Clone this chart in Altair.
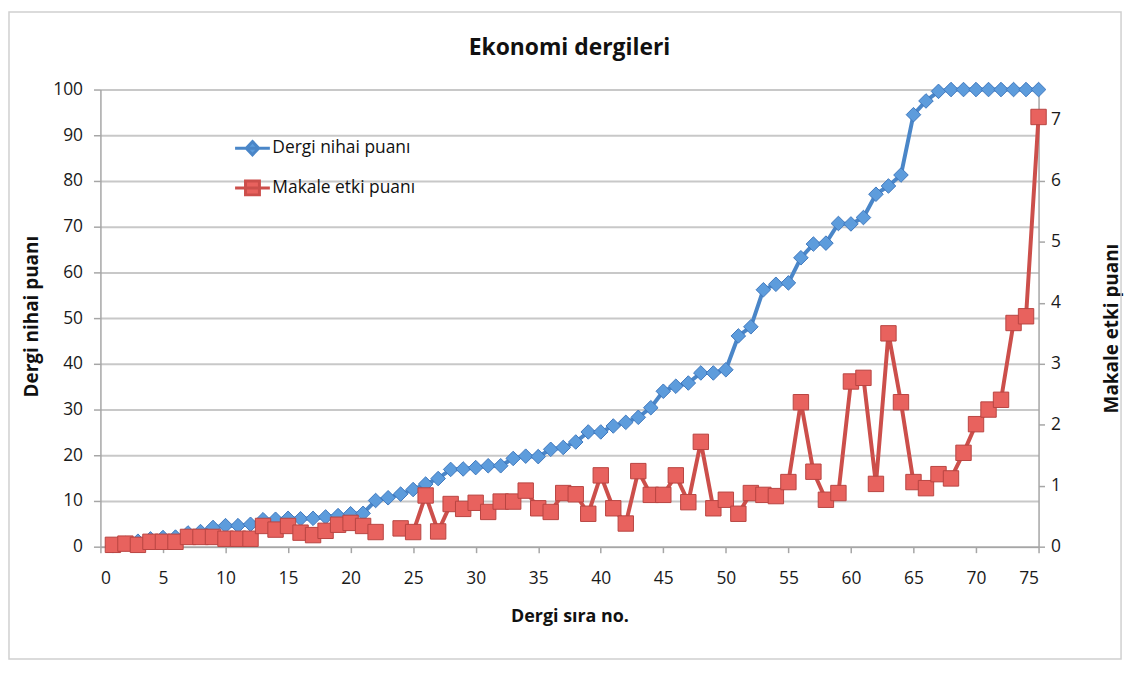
import altair as alt
import pandas as pd
import numpy as np

sira = list(range(1, 76))
nihai = [0.2, 0.7, 1.2, 1.7, 2.0, 2.1, 3.0, 3.3, 4.2, 4.6,
         4.6, 4.9, 5.9, 6.0, 6.2, 6.1, 6.2, 6.5, 6.8, 7.2,
         7.3, 10.1, 10.7, 11.5, 12.5, 13.7, 14.9, 16.9, 17.0, 17.3,
         17.7, 17.7, 19.3, 19.8, 19.7, 21.3, 21.7, 22.9, 25.1, 25.1,
         26.4, 27.2, 28.3, 30.4, 34.0, 35.1, 35.8, 38.0, 38.0, 38.7,
         46.1, 48.1, 56.2, 57.4, 57.7, 63.2, 66.2, 66.4, 70.7, 70.6,
         72.0, 77.1, 78.9, 81.3, 94.5, 97.5, 99.6, 100, 100, 100,
         100, 100, 100, 100, 100]
etki = [0.03, 0.05, 0.03, 0.08, 0.08, 0.08, 0.16, 0.16, 0.16, 0.13,
        0.13, 0.13, 0.34, 0.28, 0.34, 0.23, 0.19, 0.26, 0.36, 0.39,
        0.34, 0.24, None, 0.30, 0.24, 0.84, 0.25, 0.70, 0.62, 0.72,
        0.57, 0.74, 0.74, 0.92, 0.63, 0.57, 0.88, 0.86, 0.54, 1.17,
        0.63, 0.38, 1.24, 0.85, 0.85, 1.17, 0.73, 1.72, 0.63, 0.77,
        0.54, 0.88, 0.85, 0.83, 1.06, 2.37, 1.23, 0.77, 0.88, 2.71,
        2.77, 1.03, 3.50, 2.37, 1.06, 0.96, 1.19, 1.12, 1.54, 2.01,
        2.25, 2.41, 3.67, 3.78, 7.05]

series_names = ["Dergi nihai puanı", "Makale etki puanı"]
x_ticks = list(range(0, 80, 5))
left_ticks = list(range(0, 110, 10))
right_ticks = list(range(0, 8))

df = pd.DataFrame({"sira": sira, "nihai": nihai,
                   "etki": [np.nan if v is None else v for v in etki]})

BLUE_LINE = "#4a86c8"
BLUE_FILL = "#5d9cdc"
BLUE_EDGE = "#3f78bd"
RED_LINE = "#cc4f4b"
RED_FILL = "#e8625e"
RED_EDGE = "#b84542"
FONT = "Open Sans"

x_enc = alt.X("sira:Q",
              scale=alt.Scale(domain=[0, 75], nice=False),
              axis=alt.Axis(values=x_ticks, grid=False, title="Dergi sıra no.",
                            domainColor="#a6a6a6", domainWidth=1.5,
                            tickColor="#a6a6a6", tickSize=6, tickWidth=1.5,
                            labelFontSize=17.5, labelPadding=17, labelColor="#1a1a1a",
                            titleFontSize=18, titleFontWeight="bold", titleColor="#111111",
                            titleY=70, titleBaseline="middle"))

y_left = alt.Y("nihai:Q",
               scale=alt.Scale(domain=[0, 100], nice=False),
               axis=alt.Axis(values=left_ticks, grid=True, gridColor="#c8c8c8", gridWidth=2,
                             title="Dergi nihai puanı",
                             domainColor="#a6a6a6", domainWidth=1.5,
                             tickColor="#a6a6a6", tickSize=7, tickWidth=1.5,
                             labelFontSize=17.5, labelPadding=11, labelColor="#1a1a1a",
                             titleFontSize=19, titleFontWeight="bold", titleColor="#111111",
                             titleX=-69, titleY=228, titleBaseline="middle"))

y_right = alt.Y("etki:Q",
                scale=alt.Scale(domain=[0, 7.5], nice=False),
                axis=alt.Axis(orient="right", values=right_ticks, grid=False,
                              title="Makale etki puanı",
                              domainColor="#a6a6a6", domainWidth=1.5,
                              tickColor="#a6a6a6", tickSize=6, tickWidth=1.5,
                              labelFontSize=17.5, labelPadding=6, labelColor="#1a1a1a",
                              titleFontSize=19, titleFontWeight="bold", titleColor="#111111",
                              titleAngle=270, titleX=73, titleY=240, titleBaseline="middle"))

base = alt.Chart(df)

blue_line = base.mark_line(color=BLUE_LINE, strokeWidth=4).encode(x=x_enc, y=y_left)
blue_pts = base.mark_point(shape="diamond", filled=True, size=215, fill=BLUE_FILL,
                           stroke=BLUE_EDGE, strokeWidth=1, opacity=1).encode(x=x_enc, y=y_left)

red_line = base.mark_line(color=RED_LINE, strokeWidth=4,
                          invalid="break-paths-filter-domains").encode(x=x_enc, y=y_right)
red_pts = base.mark_point(shape="square", filled=True, size=240, fill=RED_FILL,
                          stroke=RED_EDGE, strokeWidth=1, opacity=1).encode(x=x_enc, y=y_right)

# legend layer (no drawn data marks; legend comes from explicit scale domains)
legend_props = dict(orient="none", legendX=134, legendY=40, title=None,
                    symbolSize=1225, symbolStrokeWidth=3, labelFontSize=17.5,
                    labelFont=FONT, labelColor="#111111", labelOffset=1,
                    rowPadding=8, padding=0)
diamond_path = "M-1,0H1M0,-0.38L0.36,0L0,0.38L-0.36,0Z"
square_path = "M-1,0H1M-0.4,-0.4H0.4V0.4H-0.4Z"
legend_layer = base.transform_filter("datum.sira < 0").mark_point(filled=True, opacity=1).encode(
    x=x_enc, y=y_left,
    fill=alt.Fill("s:N", scale=alt.Scale(domain=series_names, range=[BLUE_FILL, RED_FILL]),
                  legend=alt.Legend(**legend_props)),
    stroke=alt.Stroke("s:N", scale=alt.Scale(domain=series_names, range=[BLUE_LINE, RED_LINE]),
                      legend=alt.Legend(**legend_props)),
    shape=alt.Shape("s:N", scale=alt.Scale(domain=series_names, range=[diamond_path, square_path]),
                    legend=alt.Legend(**legend_props)),
).transform_calculate(s="'x'")

frame = alt.Chart(pd.DataFrame({"k": [0]})).mark_rect(
    fill="transparent", stroke="#d0d0d0", strokeWidth=1.5).encode(
    x=alt.value(-92), x2=alt.value(1027), y=alt.value(-78), y2=alt.value(573))

left_group = alt.layer(frame, blue_line, blue_pts, legend_layer)
right_group = alt.layer(red_line, red_pts)

chart = alt.layer(left_group, right_group).resolve_scale(y="independent").properties(
    width=944, height=460,
    title=alt.TitleParams("Ekonomi dergileri", fontSize=23, font=FONT, fontWeight="bold",
                          color="#111111", anchor="middle", frame="group", offset=0,
                          dy=67, baseline="alphabetic"),
    padding={"left": 93, "top": 80, "right": 90, "bottom": 115},
    autosize=alt.AutoSizeParams(type="none"),
    background="white",
).configure(font=FONT).configure_view(strokeWidth=0)

chart.save("out.html", embed_options={"renderer": "svg", "actions": False})
